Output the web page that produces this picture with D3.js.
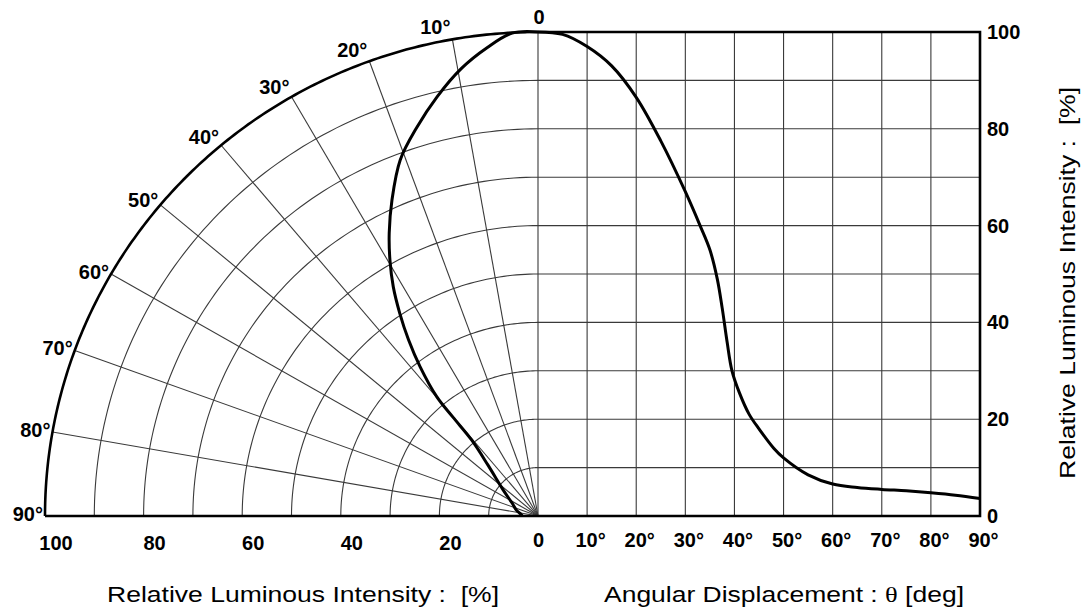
<!DOCTYPE html>
<html>
<head>
<meta charset="utf-8">
<script src="https://cdn.jsdelivr.net/npm/d3@7"></script>
<style>
  body { margin: 0; background: #fff; }
  text { font-family: "Liberation Sans", Arial, sans-serif; fill: #000; }
</style>
</head>
<body>
<div id="chart"></div>
<script>
// right panel: intensity vs angle
const angles = [0, 5, 10, 15, 20, 25, 30, 33, 35, 36.5, 37.5, 38.5, 39.5, 41, 43, 45, 48, 50, 55, 60, 65, 70, 75, 80, 85, 90];
const intensity = [100, 99.5, 97, 93, 86.5, 77.5, 67, 60, 55, 49, 43, 36, 30, 25.5, 21, 18, 14, 12, 8.5, 6.6, 5.9, 5.5, 5.2, 4.8, 4.3, 3.6];

// left panel: polar pattern
const polarAngles = [0, 3, 6.1, 9.6, 13.3, 17, 20.8, 24.4, 27.3, 29.6, 31.8, 33.8, 35.8, 37.8, 39.8, 40.2, 40.6, 44, 52.7, 63, 75, 86.5, 90];
const polarIntensity = [100, 99.9, 97.3, 93.7, 89, 84, 78.7, 71.7, 65.8, 60.8, 55.7, 50.4, 44.9, 39, 32.1, 26.8, 20.7, 14.6, 8.9, 5.9, 4.5, 3.3, 3.2];

// tick labels (the shared 0 comes from the angle axis)
const rightTicks = [0, 20, 40, 60, 80, 100];
const angleTicks = [0, 10, 20, 30, 40, 50, 60, 70, 80, 90];
const leftTicks = [100, 80, 60, 40, 20];
const spokeTicks = [10, 20, 30, 40, 50, 60, 70, 80, 90];

const svg = d3.select('#chart')
  .append('svg')
  .attr('width', 1086)
  .attr('height', 614);

const cx = 538, cy = 516;

const x = d3.scaleLinear().domain([0, 90]).range([cx, 980]);
const y = d3.scaleLinear().domain([0, 100]).range([cy, 32]);
// polar radius, slightly wider than tall like the original
const rx = d3.scaleLinear().domain([0, 100]).range([0, 493]);
const ry = d3.scaleLinear().domain([0, 100]).range([0, 484]);

const rad = a => a * Math.PI / 180;
const polar = (a, v) => [cx - rx(v) * Math.sin(rad(a)), cy - ry(v) * Math.cos(rad(a))];

// grid
const grid = svg.append('g')
  .attr('stroke', '#3a3a3a')
  .attr('stroke-width', 1.1)
  .attr('fill', 'none');

grid.selectAll('.vline')
  .data(d3.range(0, 90, 10))
  .join('line')
  .attr('x1', d => x(d)).attr('x2', d => x(d))
  .attr('y1', y(0)).attr('y2', y(100));

grid.selectAll('.hline')
  .data(d3.range(10, 100, 10))
  .join('line')
  .attr('x1', x(0)).attr('x2', x(90))
  .attr('y1', d => y(d)).attr('y2', d => y(d));

const line = d3.line();
grid.selectAll('.ring')
  .data(d3.range(10, 100, 10))
  .join('path')
  .attr('d', v => line(d3.range(0, 90.5, 1).map(a => polar(a, v))));

grid.selectAll('.spoke')
  .data(d3.range(10, 90, 10))
  .join('line')
  .attr('x1', cx).attr('y1', cy)
  .attr('x2', a => polar(a, 100)[0])
  .attr('y2', a => polar(a, 100)[1]);

// heavy frame
const frame = svg.append('g')
  .attr('stroke', '#000')
  .attr('stroke-width', 2.6)
  .attr('fill', 'none');

frame.append('path')
  .attr('d', line(d3.range(0, 90.5, 0.5).map(a => polar(a, 100))));
frame.append('path')
  .attr('d', `M${x(0)},${y(100)}H${x(90)}V${y(0)}H${polar(90, 100)[0]}`);

// curves
const curve = d3.line().curve(d3.curveCatmullRom.alpha(0.5));

svg.append('path')
  .attr('fill', 'none')
  .attr('stroke', '#000')
  .attr('stroke-width', 3)
  .attr('d', curve(angles.map((a, i) => [x(a), y(intensity[i])])));

svg.append('path')
  .attr('fill', 'none')
  .attr('stroke', '#000')
  .attr('stroke-width', 3)
  .attr('d', curve(polarAngles.map((a, i) => polar(a, polarIntensity[i]))));

// right axis labels
const yAxis = svg.append('g')
  .attr('transform', `translate(${x(90)},0)`)
  .call(d3.axisRight(y).tickValues(rightTicks).tickSize(0).tickPadding(7));
yAxis.select('.domain').remove();

// bottom angle labels
const xAxis = svg.append('g')
  .attr('transform', `translate(0,${cy})`)
  .call(d3.axisBottom(x).tickValues(angleTicks).tickSize(0).tickPadding(17)
    .tickFormat(d => d ? d + '°' : '0'));
xAxis.select('.domain').remove();
xAxis.selectAll('text').attr('dx', d => d ? 3 : 0);

[yAxis, xAxis].forEach(g => g.attr('font-family', null).attr('font-size', null));
svg.selectAll('.tick text')
  .style('font-size', '20px')
  .style('font-weight', 'bold');

// left intensity labels
svg.append('g').selectAll('text')
  .data(leftTicks)
  .join('text')
  .attr('x', d => cx - rx(d) + 11)
  .attr('y', cy + 34)
  .attr('text-anchor', 'middle')
  .style('font-size', '20px')
  .style('font-weight', 'bold')
  .text(d => d);

// angle labels around the arc
svg.append('g').selectAll('text')
  .data(spokeTicks)
  .join('text')
  .attr('x', a => polar(a, 100)[0] - 2)
  .attr('y', a => polar(a, 100)[1] + 5 - 11 * Math.max(0, Math.cos(rad(a)) - 0.5) * 2)
  .attr('text-anchor', 'end')
  .style('font-size', '20px')
  .style('font-weight', 'bold')
  .text(a => a + '°');

svg.append('text')
  .attr('x', cx + 1)
  .attr('y', y(100) - 8)
  .attr('text-anchor', 'middle')
  .style('font-size', '20px')
  .style('font-weight', 'bold')
  .text('0');

// axis titles (the original lettering is a bit wide, hence textLength)
svg.append('text')
  .attr('x', 303)
  .attr('y', 602)
  .attr('text-anchor', 'middle')
  .attr('textLength', 392)
  .attr('lengthAdjust', 'spacingAndGlyphs')
  .style('font-size', '22px')
  .style('white-space', 'pre')
  .text('Relative Luminous Intensity :  [%]');

const t2 = svg.append('text')
  .attr('x', 784)
  .attr('y', 602)
  .attr('text-anchor', 'middle')
  .attr('textLength', 360)
  .attr('lengthAdjust', 'spacingAndGlyphs')
  .style('font-size', '22px');
t2.append('tspan').text('Angular Displacement : ');
t2.append('tspan').style('font-family', '"Liberation Serif", "DejaVu Serif", serif').text('θ');
t2.append('tspan').text(' [deg]');

svg.append('text')
  .attr('transform', 'translate(1075,283) rotate(-90)')
  .attr('text-anchor', 'middle')
  .attr('textLength', 392)
  .attr('lengthAdjust', 'spacingAndGlyphs')
  .style('font-size', '22px')
  .style('white-space', 'pre')
  .text('Relative Luminous Intensity :  [%]');
</script>
</body>
</html>
